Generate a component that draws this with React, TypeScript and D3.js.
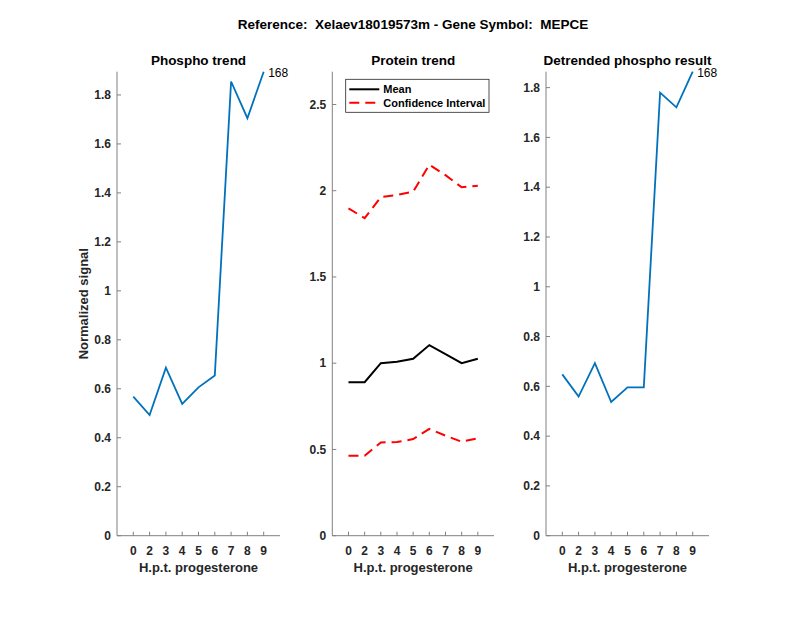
import React from "react";
import * as d3 from "d3";

const tickLabels = ["0", "2", "3", "4", "5", "6", "7", "8", "9"];
const phospho = [0.568, 0.493, 0.686, 0.538, 0.606, 0.654, 1.855, 1.705, 1.895];
const proteinMean = [0.89, 0.89, 1.0, 1.008, 1.026, 1.105, 1.053, 1.0, 1.026];
const proteinLower = [0.463, 0.463, 0.541, 0.543, 0.56, 0.619, 0.58, 0.545, 0.564];
const proteinUpper = [1.898, 1.841, 1.963, 1.975, 1.994, 2.151, 2.09, 2.02, 2.029];
const detrended = [0.648, 0.559, 0.693, 0.537, 0.596, 0.596, 1.78, 1.721, 1.864];
const phosphoTicks = [0, 0.2, 0.4, 0.6, 0.8, 1, 1.2, 1.4, 1.6, 1.8];
const proteinTicks = [0, 0.5, 1, 1.5, 2, 2.5];
const peptideLabel = "168";

const FONT = "'Liberation Sans', Arial, Helvetica, sans-serif";
const AXIS = "#808080";
const TXT = "#262626";
const BLUE = "#0072BD";

const top = 71.7;
const bottom = 535.7;

type Series = { values: number[]; color: string; dash?: string; width: number };

function Panel(props: {
  x0: number;
  x1: number;
  yMax: number;
  yTicks: number[];
  title: string;
  series: Series[];
  ylabel?: string;
  endLabel?: string;
  legend?: boolean;
}) {
  const { x0, x1, yMax, yTicks, title, series, ylabel, endLabel, legend } = props;
  const x = d3.scaleLinear().domain([0, 10]).range([x0, x1]);
  const y = d3.scaleLinear().domain([0, yMax]).range([bottom, top]);
  const line = d3
    .line<number>()
    .x((_, i) => x(i + 1))
    .y((d) => y(d));
  const cx = (x0 + x1) / 2;
  return (
    <g>
      <text x={cx} y={64.5} textAnchor="middle" fontFamily={FONT} fontWeight="bold" fontSize={13.5} fill="#000">
        {title}
      </text>
      <line x1={x0} x2={x0} y1={top} y2={bottom} stroke={AXIS} strokeWidth={1} />
      <line x1={x0} x2={x1} y1={bottom} y2={bottom} stroke={AXIS} strokeWidth={1} />
      {yTicks.map((t) => (
        <g key={"y" + t}>
          <line x1={x0} x2={x0 + 4} y1={y(t)} y2={y(t)} stroke={AXIS} />
          <text
            x={x0 - 6}
            y={y(t)}
            dy="0.35em"
            textAnchor="end"
            fontFamily={FONT}
            fontWeight="bold"
            fontSize={12}
            fill={TXT}
          >
            {String(t)}
          </text>
        </g>
      ))}
      {tickLabels.map((lab, i) => (
        <g key={"x" + i}>
          <line x1={x(i + 1)} x2={x(i + 1)} y1={bottom} y2={bottom - 4} stroke={AXIS} />
          <text
            x={x(i + 1)}
            y={bottom + 19}
            textAnchor="middle"
            fontFamily={FONT}
            fontWeight="bold"
            fontSize={12}
            fill={TXT}
          >
            {lab}
          </text>
        </g>
      ))}
      <text x={cx} y={bottom + 36} textAnchor="middle" fontFamily={FONT} fontWeight="bold" fontSize={13} fill={TXT}>
        H.p.t. progesterone
      </text>
      {ylabel && (
        <text
          transform={`translate(${x0 - 29},${(top + bottom) / 2}) rotate(-90)`}
          textAnchor="middle"
          fontFamily={FONT}
          fontWeight="bold"
          fontSize={13}
          fill={TXT}
        >
          {ylabel}
        </text>
      )}
      {series.map((s, k) => (
        <path
          key={k}
          d={line(s.values) || ""}
          fill="none"
          stroke={s.color}
          strokeWidth={s.width}
          strokeDasharray={s.dash}
          strokeLinejoin="miter"
        />
      ))}
      {endLabel && (
        <text
          x={x(9) + 4.5}
          y={y(series[0].values[8]) + 1}
          dy="0.35em"
          fontFamily={FONT}
          fontSize={12}
          fill="#000"
        >
          {endLabel}
        </text>
      )}
      {legend && (
        <g>
          <rect x={345.7} y={79.3} width={143.3} height={33} fill="#fff" stroke="#262626" strokeWidth={0.8} />
          <line x1={349.3} x2={379.3} y1={89.3} y2={89.3} stroke="#000" strokeWidth={2} />
          <text x={383.3} y={89.3} dy="0.35em" fontFamily={FONT} fontWeight="bold" fontSize={11} fill="#000">
            Mean
          </text>
          <line x1={349.3} x2={379.3} y1={102.7} y2={102.7} stroke="#FF0000" strokeWidth={2} strokeDasharray="10,6" />
          <text x={383.3} y={102.7} dy="0.35em" fontFamily={FONT} fontWeight="bold" fontSize={11} fill="#000">
            Confidence Interval
          </text>
        </g>
      )}
    </g>
  );
}

export default function App() {
  return (
    <svg
      width={800}
      height={618}
      style={{ position: "absolute", left: 0, top: 0, background: "#fff" }}
    >
      <rect width={800} height={618} fill="#fff" />
      <text
        x={413}
        y={29}
        textAnchor="middle"
        fontFamily={FONT}
        fontWeight="bold"
        fontSize={13.5}
        fill="#000"
        style={{ whiteSpace: "pre" }}
      >
        {"Reference:  Xelaev18019573m - Gene Symbol:  MEPCE"}
      </text>
      <Panel
        x0={117}
        x1={280}
        yMax={1.895}
        yTicks={phosphoTicks}
        title="Phospho trend"
        ylabel="Normalized signal"
        endLabel={peptideLabel}
        series={[{ values: phospho, color: BLUE, width: 1.8 }]}
      />
      <Panel
        x0={332.3}
        x1={494}
        yMax={2.69}
        yTicks={proteinTicks}
        title="Protein trend"
        legend
        series={[
          { values: proteinMean, color: "#000", width: 2 },
          { values: proteinUpper, color: "#FF0000", width: 2, dash: "10,6" },
          { values: proteinLower, color: "#FF0000", width: 2, dash: "10,6" },
        ]}
      />
      <Panel
        x0={546}
        x1={709}
        yMax={1.864}
        yTicks={phosphoTicks}
        title="Detrended phospho result"
        endLabel={peptideLabel}
        series={[{ values: detrended, color: BLUE, width: 1.8 }]}
      />
    </svg>
  );
}
